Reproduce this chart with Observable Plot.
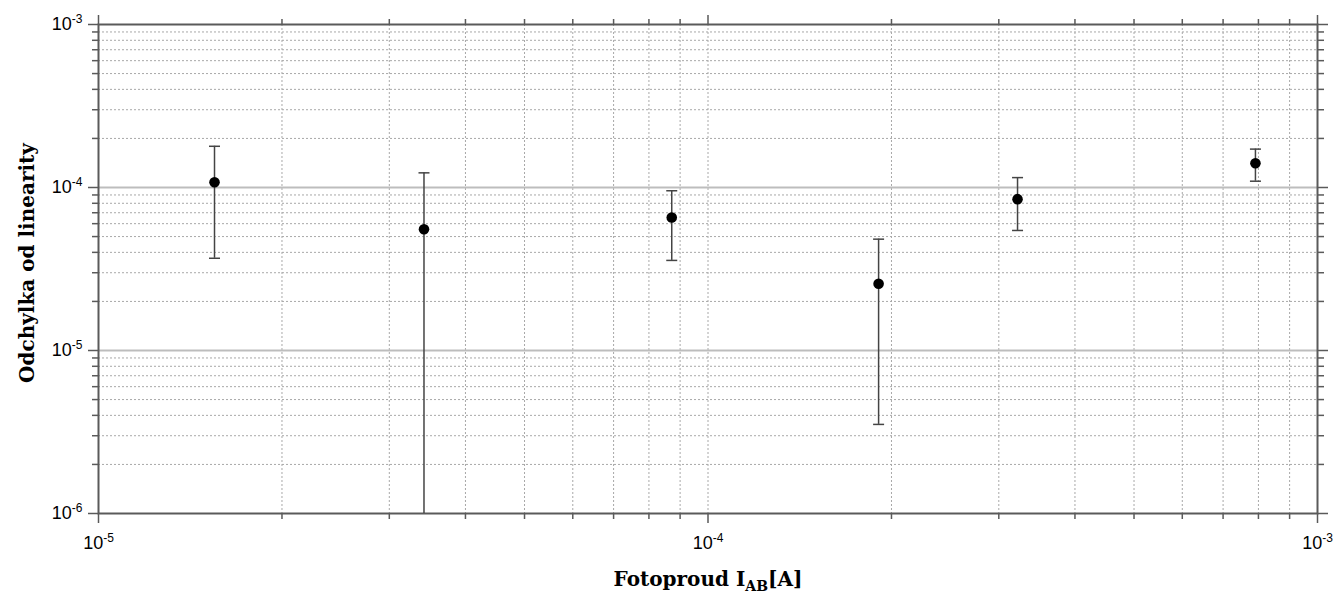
<!DOCTYPE html>
<html>
<head>
<meta charset="utf-8">
<script src="https://cdn.jsdelivr.net/npm/d3@7"></script>
<script src="https://cdn.jsdelivr.net/npm/@observablehq/plot@0.6"></script>
<style>
  html, body { margin: 0; padding: 0; background: #fff; }
</style>
</head>
<body>
<div id="chart"></div>
<script>
// ---- data ----
const photocurrent  = [1.55e-5, 3.42e-5, 8.72e-5, 1.905e-4, 3.22e-4, 7.91e-4];
const deviation     = [1.078e-4, 5.55e-5, 6.54e-5, 2.565e-5, 8.48e-5, 1.41e-4];
const deviationLow  = [3.68e-5, 5e-7, 3.57e-5, 3.52e-6, 5.45e-5, 1.093e-4];
const deviationHigh = [1.79e-4, 1.23e-4, 9.55e-5, 4.82e-5, 1.15e-4, 1.72e-4];

// ---- ticks / labels ----
const xMajorTicks = [1e-5, 1e-4, 1e-3];
const yMajorTicks = [1e-6, 1e-5, 1e-4, 1e-3];
const mantissas = [2, 3, 4, 5, 6, 7, 8, 9];
const xMinorTicks = [1e-5, 1e-4].flatMap(d => mantissas.map(m => m * d));
const yMinorTicks = [1e-6, 1e-5, 1e-4].flatMap(d => mantissas.map(m => m * d));
const xLabelMain = "Fotoproud I";
const xLabelSub = "AB";
const xLabelUnit = "[A]";
const yLabel = "Odchylka od linearity";

const points = photocurrent.map((x, i) => ({
  x, y: deviation[i], lo: deviationLow[i], hi: deviationHigh[i]
}));

const axisColor = "#5a5a5a";
const tickFmt = d => `10^${Math.round(Math.log10(d))}`;
const blank = () => "";
const titleFont = "DejaVu Serif, serif";

const capSymbol = {
  draw(ctx, size) {
    const r = Math.sqrt(size / Math.PI);
    ctx.moveTo(-r, 0);
    ctx.lineTo(r, 0);
  }
};

const svg = Plot.plot({
  width: 1338,
  height: 594,
  marginLeft: 98,
  marginRight: 21,
  marginTop: 24,
  marginBottom: 81,
  style: { fontFamily: "Liberation Sans, Arial, sans-serif", fontSize: "18px", background: "white", color: "black" },
  x: { type: "log", domain: [1e-5, 1e-3], label: null },
  y: { type: "log", domain: [1e-6, 1e-3], label: null },
  marks: [
    // grid
    Plot.ruleY(yMinorTicks, { stroke: "#a8a8a8", strokeWidth: 1, strokeDasharray: "2,2" }),
    Plot.ruleX(xMinorTicks.concat([1e-4]), { stroke: "#a8a8a8", strokeWidth: 1, strokeDasharray: "2,2" }),
    Plot.ruleY([1e-5, 1e-4], { stroke: "#bdbdbd", strokeWidth: 2 }),
    // axes (ticks outward on all four sides)
    Plot.axisX(xMajorTicks, { anchor: "bottom", tickSize: 10, tickPadding: 13, tickFormat: tickFmt, label: null, stroke: axisColor, strokeWidth: 1.5, fill: "black" }),
    Plot.axisX(xMinorTicks, { anchor: "bottom", tickSize: 6, tickFormat: blank, label: null, stroke: axisColor, strokeWidth: 1.5 }),
    Plot.axisX(xMajorTicks, { anchor: "top", tickSize: 10, tickFormat: blank, label: null, stroke: axisColor, strokeWidth: 1.5 }),
    Plot.axisX(xMinorTicks, { anchor: "top", tickSize: 6, tickFormat: blank, label: null, stroke: axisColor, strokeWidth: 1.5 }),
    Plot.axisY(yMajorTicks, { anchor: "left", tickSize: 10, tickPadding: 6, tickFormat: tickFmt, label: null, stroke: axisColor, strokeWidth: 1.5, fill: "black" }),
    Plot.axisY(yMinorTicks, { anchor: "left", tickSize: 6, tickFormat: blank, label: null, stroke: axisColor, strokeWidth: 1.5 }),
    Plot.axisY(yMajorTicks, { anchor: "right", tickSize: 10, tickFormat: blank, label: null, stroke: axisColor, strokeWidth: 1.5 }),
    Plot.axisY(yMinorTicks, { anchor: "right", tickSize: 6, tickFormat: blank, label: null, stroke: axisColor, strokeWidth: 1.5 }),
    Plot.frame({ stroke: axisColor, strokeWidth: 2 }),
    // error bars
    Plot.ruleX(points, { x: "x", y1: "lo", y2: "hi", stroke: "#444", strokeWidth: 1.5, clip: true }),
    Plot.dot(points, { x: "x", y: "hi", symbol: capSymbol, r: 5.5, stroke: "#444", strokeWidth: 1.5, fill: "none", clip: true }),
    Plot.dot(points, { x: "x", y: "lo", symbol: capSymbol, r: 5.5, stroke: "#444", strokeWidth: 1.5, fill: "none", clip: true }),
    // points
    Plot.dot(points, { x: "x", y: "y", r: 5.3, fill: "black", stroke: "none" }),
    // axis titles
    Plot.text([xLabelMain + xLabelSub + xLabelUnit], { frameAnchor: "bottom", dy: 72, lineAnchor: "bottom", textAnchor: "middle",
      fontFamily: titleFont, fontWeight: "bold", fontSize: 20, fill: "black" }),
    Plot.text([yLabel], { frameAnchor: "left", dx: -65, dy: -6, rotate: -90, lineAnchor: "bottom", textAnchor: "middle",
      fontFamily: titleFont, fontWeight: "bold", fontSize: 20, fill: "black" })
  ]
});

// superscript exponents in tick labels, subscript in axis title
d3.select(svg).selectAll("text").each(function () {
  const t = this.textContent;
  const m = /^10\^(-?\d+)$/.exec(t);
  const s = d3.select(this);
  if (m) {
    s.text("10").style("font-size", "18px").style("font-family", "Liberation Sans, Arial, sans-serif");
    s.append("tspan").attr("dy", -7).style("font-size", "12px").text(m[1]);
  } else if (t === xLabelMain + xLabelSub + xLabelUnit) {
    s.text(xLabelMain);
    s.append("tspan").attr("dy", 5).style("font-size", "14px").text(xLabelSub);
    s.append("tspan").attr("dy", -5).text(xLabelUnit);
  }
});

document.getElementById("chart").appendChild(svg);
</script>
</body>
</html>
